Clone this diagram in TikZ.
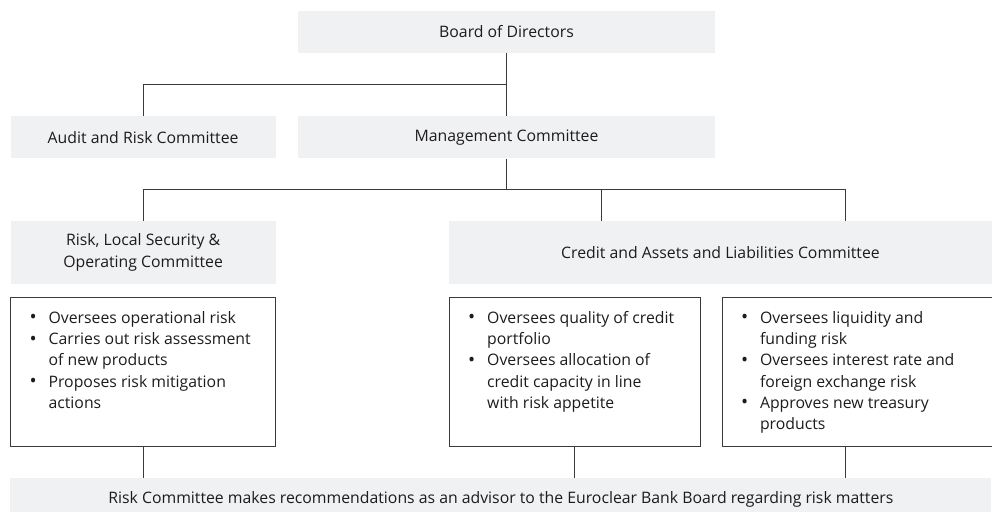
\documentclass[tikz,border=0pt]{standalone}
\usepackage{fontspec}
\setmainfont{Open Sans}
\usepackage{tikz}
\usetikzlibrary{positioning, calc}

\definecolor{boxgray}{RGB}{240,241,243}
\definecolor{linegray}{RGB}{58,58,58}
\definecolor{inkgray}{RGB}{30,27,28}

% bullet line with hanging indent
\newcommand{\bul}[1]{\par\noindent\hangindent=19pt\hangafter=1\makebox[19pt][l]{\raisebox{-0.5pt}{\fontsize{19}{19}\selectfont\textbullet}}#1}
\newcommand{\duties}[2]{\parbox[t][149pt][t]{#1}{\rightskip=0pt plus 1fil\vspace*{14pt}#2}}

\begin{document}
\begin{tikzpicture}[x=1pt, y=-1pt,
    head/.style={fill=boxgray, inner sep=0pt, minimum height=42pt, align=center, text=inkgray},
    detail/.style={draw=linegray, line width=0.8pt, inner xsep=19pt, inner ysep=0pt, text=inkgray},
    link/.style={draw=linegray, line width=0.8pt},
    font=\fontsize{15.8}{21.2}\selectfont]
        \useasboundingbox (0,0) rectangle (992,511);
        \clip (0,0) rectangle (992,511);
        % top of the tree
        \node[head, minimum width=417pt] (board) at (506.5,32) {Board of Directors};
        \node[head, minimum width=417pt] (mgmt) [below = 63pt of board] {Management Committee};
        \node[head, minimum width=265pt] (audit) [left = 22pt of mgmt] {Audit and Risk Committee};
        
        % committees under management
        \node[head, minimum width=265pt, minimum height=63pt] (risk) [below = 62pt of audit] {Risk, Local Security \&\\Operating Committee};
        \node[head, minimum width=543pt, minimum height=63pt] (credit) [right = 173pt of risk] {Credit and Assets and Liabilities Committee};
        
        \node[detail] (det1) [below = 13pt of risk] {\duties{227pt}{%
            \bul{Oversees operational risk}%
            \bul{Carries out risk assessment\newline of new products}%
            \bul{Proposes risk mitigation\newline actions}}};
        \node[detail] (det2) [below = 13pt of credit.south west, anchor=north west] {\duties{213pt}{%
            \bul{Oversees quality of credit\newline portfolio}%
            \bul{Oversees allocation of\newline credit capacity in line\newline with risk appetite}}};
        \node[detail] (det3) [right = 21pt of det2] {\duties{236pt}{%
            \bul{Oversees liquidity and\newline funding risk}%
            \bul{Oversees interest rate and\newline foreign exchange risk}%
            \bul{Approves new treasury\newline products}}};
        
        \node[head, minimum width=981pt] (advice) [below = 31pt of det1.south west, anchor=north west] {Risk Committee makes recommendations as an advisor to the Euroclear Bank Board regarding risk matters};
        
        % connectors
        \coordinate (j1) at ($(board.south)!0.5!(mgmt.north)$);
        \coordinate (j2) at ($(mgmt.south)!0.5!(mgmt.south |- credit.north)$);
        \coordinate (cin1) at ($(credit.north west)+(153,0)$);
        \coordinate (cin2) at ($(credit.north west)+(397,0)$);
        
        \path[link] (board.south) -- (mgmt.north);
        \path[link] (audit.north) |- (j1);
        \path[link] (mgmt.south) -- (j2);
        \path[link] (risk.north) |- (j2) -| (cin1);
        \path[link] (j2) -| (cin2);
        
        \path[link] (det1.south) -- (det1.south |- advice.north);
        \path[link] (det2.south) -- (det2.south |- advice.north);
        \path[link] (det3.south -| cin2) -- (advice.north -| cin2);
\end{tikzpicture}
\end{document}
